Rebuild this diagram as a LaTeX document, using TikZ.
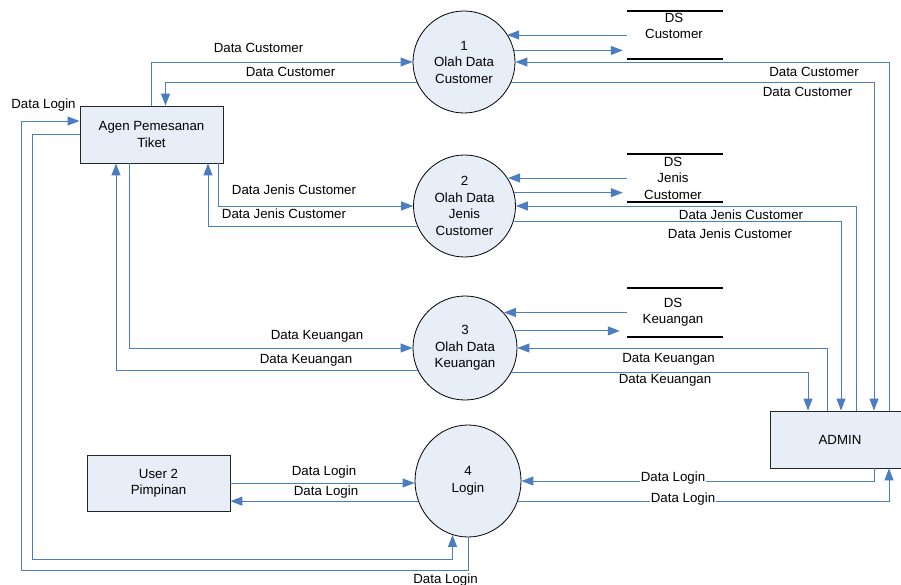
\documentclass[tikz,border=0pt]{standalone}
\usepackage{fontspec}
\setmainfont{Liberation Sans}
\usetikzlibrary{arrows.meta,calc,shapes.geometric}
\definecolor{flowc}{RGB}{74,126,193}
\definecolor{fillc}{RGB}{232,238,247}
\begin{document}
\begin{tikzpicture}[x=1pt,y=-1pt,
  every node/.style={font=\fontsize{13.3}{16.5}\selectfont},
  flow/.style={draw=flowc, line width=0.95pt, -{Triangle[length=12pt,width=9pt]}},
  proc/.style={ellipse, draw=black, line width=0.8pt, fill=fillc, inner sep=0pt, align=center},
  ent/.style={rectangle, draw=black!85, line width=0.9pt, fill=fillc, align=center, inner sep=0pt},
  store/.style={rectangle, minimum width=96pt, inner sep=0pt},
  storeline/.style={draw=black, line width=1.6pt},
  lbl/.style={inner sep=0.5pt, anchor=base},
  lblw/.style={inner sep=0.5pt, anchor=base, fill=white},
]
\useasboundingbox (0,0) rectangle (901,585);

% entities
\node[ent, minimum width=143pt, minimum height=57pt] (a) at (151.5,134.5) {Agen Pemesanan\\Tiket};
\node[ent, minimum width=143pt, minimum height=56pt] (u) at (158.5,483) {User 2\\Pimpinan};
\node[ent, minimum width=140pt, minimum height=57pt] (ad) at (840,439.5) {ADMIN};

% processes
\node[proc, minimum width=102pt, minimum height=102pt] (c1) at (464,62) {1\\Olah Data\\Customer};
\node[proc, minimum width=102pt, minimum height=102pt] (c2) at (464.5,206) {2\\Olah Data\\Jenis\\Customer};
\node[proc, minimum width=104pt, minimum height=104pt] (c3) at (465,348) {3\\Olah Data\\Keuangan};
\node[proc, minimum width=106pt, minimum height=112pt] (c4) at (468,481) {4\\Login};

% data stores
\node[store, minimum height=48pt] (ds1) at (675,35) {};
\node[store, minimum height=48pt] (ds2) at (675,178) {};
\node[store, minimum height=49pt] (ds3) at (675,312.5) {};
\draw[storeline] (ds1.north west) -- (ds1.north east);
\draw[storeline] (ds1.south west) -- (ds1.south east);
\draw[storeline] (ds2.north west) -- (ds2.north east);
\draw[storeline] (ds2.south west) -- (ds2.south east);
\draw[storeline] (ds3.north west) -- (ds3.north east);
\draw[storeline] (ds3.south west) -- (ds3.south east);
\node[align=center] (ds1t) at (674,26) {DS\\Customer};
\node[align=center] (ds2t) at (673,178) {DS\\Jenis\\Customer};
\node[align=center] (ds3t) at (673,312) {DS\\Keuangan};

% Agen <-> processes
\draw[flow] (a.north) |- (c1.west);
\draw[flow] (c1.204) -| ($(a.north)+(14,0)$);
\draw[flow] ($(a.south)+(66.5,0)$) |- (c2.west);
\draw[flow] (c2.203) -| ($(a.south)+(56.5,0)$);
\draw[flow] ($(a.south)+(-22.5,0)$) |- (c3.west);
\draw[flow] (c3.205) -| ($(a.south)+(-35.5,0)$);
\draw[flow] (c4.south) -- ++(0,33) -| (21,121) -- ($(a.west)+(0,-13.5)$);
\draw[flow] (a.west) -| (32,559) -| (c4.254);

% ADMIN <-> processes
\draw[flow] ($(ad.north)+(49,0)$) |- (c1.east);
\draw[flow] (c1.336) -| ($(ad.north)+(34,0)$);
\draw[flow] ($(ad.north)+(16,0)$) |- (c2.east);
\draw[flow] (c2.342) -| ($(ad.north)+(1,0)$);
\draw[flow] ($(ad.north)+(-13,0)$) |- (c3.east);
\draw[flow] (c3.332) -| ($(ad.north)+(-32,0)$);
\draw[flow] ($(ad.south)+(34,0)$) |- (c4.east);
\draw[flow] (c4.338) -| ($(ad.south)+(49,0)$);

% User <-> Login
\draw[flow] (u.east) -- (u.east -| c4.west);
\draw[flow] (c4.202) -- (c4.202 -| u.east);

% stores <-> processes
\draw[flow] (ds1.west) -- (ds1.west -| c1.33);
\draw[flow] (c1.13) -- ($(c1.13 -| ds1.west)+(-4,0)$);
\draw[flow] (ds2.west) -- (ds2.west -| c2.32);
\draw[flow] (c2.15) -- ($(c2.15 -| ds2.west)+(-4,0)$);
\draw[flow] (ds3.west) -- (ds3.west -| c3.42);
\draw[flow] (c3.19) -- ($(c3.19 -| ds3.west)+(-7,0)$);

% labels
\node[lbl] (l1) at (258.5,52.8) {Data Customer};
\node[lbl] (l2) at (290.5,76.8) {Data Customer};
\node[lbl] (l3) at (814,76.8) {Data Customer};
\node[lbl] (l4) at (807.5,96.8) {Data Customer};
\node[lbl] (l5) at (294,194.8) {Data Jenis Customer};
\node[lbl] (l6) at (284,218.8) {Data Jenis Customer};
\node[lbl] (l7) at (741,219.8) {Data Jenis Customer};
\node[lbl] (l8) at (730,238.8) {Data Jenis Customer};
\node[lbl] (l9) at (317,339.8) {Data Keuangan};
\node[lbl] (l10) at (306,363.8) {Data Keuangan};
\node[lbl] (l11) at (668.5,362.8) {Data Keuangan};
\node[lblw] (l12) at (665,383.8) {Data Keuangan};
\node[lbl] (l13) at (43.5,108.8) {Data Login};
\node[lbl] (l14) at (445.5,583.8) {Data Login};
\node[lbl] (l15) at (324,475.8) {Data Login};
\node[lbl] (l16) at (326,495.8) {Data Login};
\node[lblw] (l17) at (673,481.8) {Data Login};
\node[lblw] (l18) at (683,502.8) {Data Login};
\end{tikzpicture}
\end{document}
